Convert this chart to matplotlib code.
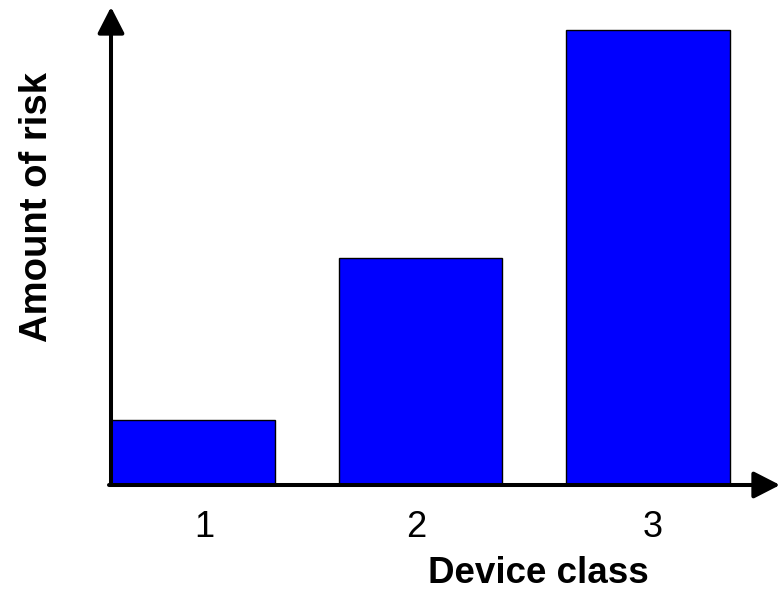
import matplotlib
matplotlib.use("Agg")
import matplotlib.pyplot as plt

categories = ["1", "2", "3"]
positions = [1, 2, 3]
risk = [1.0, 3.5, 7.0]
label_positions = [1.05, 1.98, 3.02]

plt.rcParams['font.family'] = ['Liberation Sans', 'DejaVu Sans']

W, H = 778, 591
fig = plt.figure(figsize=(W / 100, H / 100), dpi=100)
left, right, bottom, top = 111, 778, 485, 7
ax = fig.add_axes([left / W, (H - bottom) / H, (right - left) / W, (bottom - top) / H])

ax.bar(positions, risk, width=0.72, color='#0000FF', edgecolor='black', linewidth=1, zorder=2)

ax.set_xlim(1 - 82 / 227.5, 1 + (778 - 193) / 227.5)
ax.set_ylim(0, (485 - 7) / 65.0)

for s in ax.spines.values():
    s.set_visible(False)
ax.set_yticks([])
ax.set_xticks(label_positions)
ax.set_xticklabels(categories, fontsize=26)
ax.tick_params(axis='x', length=0, pad=18)

arrow = dict(arrowstyle='-|>,head_length=1.6,head_width=0.82', mutation_scale=10,
             lw=2.9, color='black', shrinkA=0, shrinkB=0)
ax.annotate('', xy=(0, 1), xytext=(0, 0), xycoords='axes fraction', arrowprops=arrow,
            annotation_clip=False)
ax.annotate('', xy=(1.003, 0), xytext=(-0.003, 0), xycoords='axes fraction', arrowprops=arrow,
            annotation_clip=False)

fig.text(538 / W, (H - 583) / H, 'Device class', fontsize=26.5, fontweight='bold',
         ha='center', va='baseline')
fig.text(37 / W, (H - 207) / H, 'Amount of risk', fontsize=27.5, fontweight='bold',
         ha='center', va='center', rotation=90)

fig.savefig('out.png', dpi=100, facecolor='white')
